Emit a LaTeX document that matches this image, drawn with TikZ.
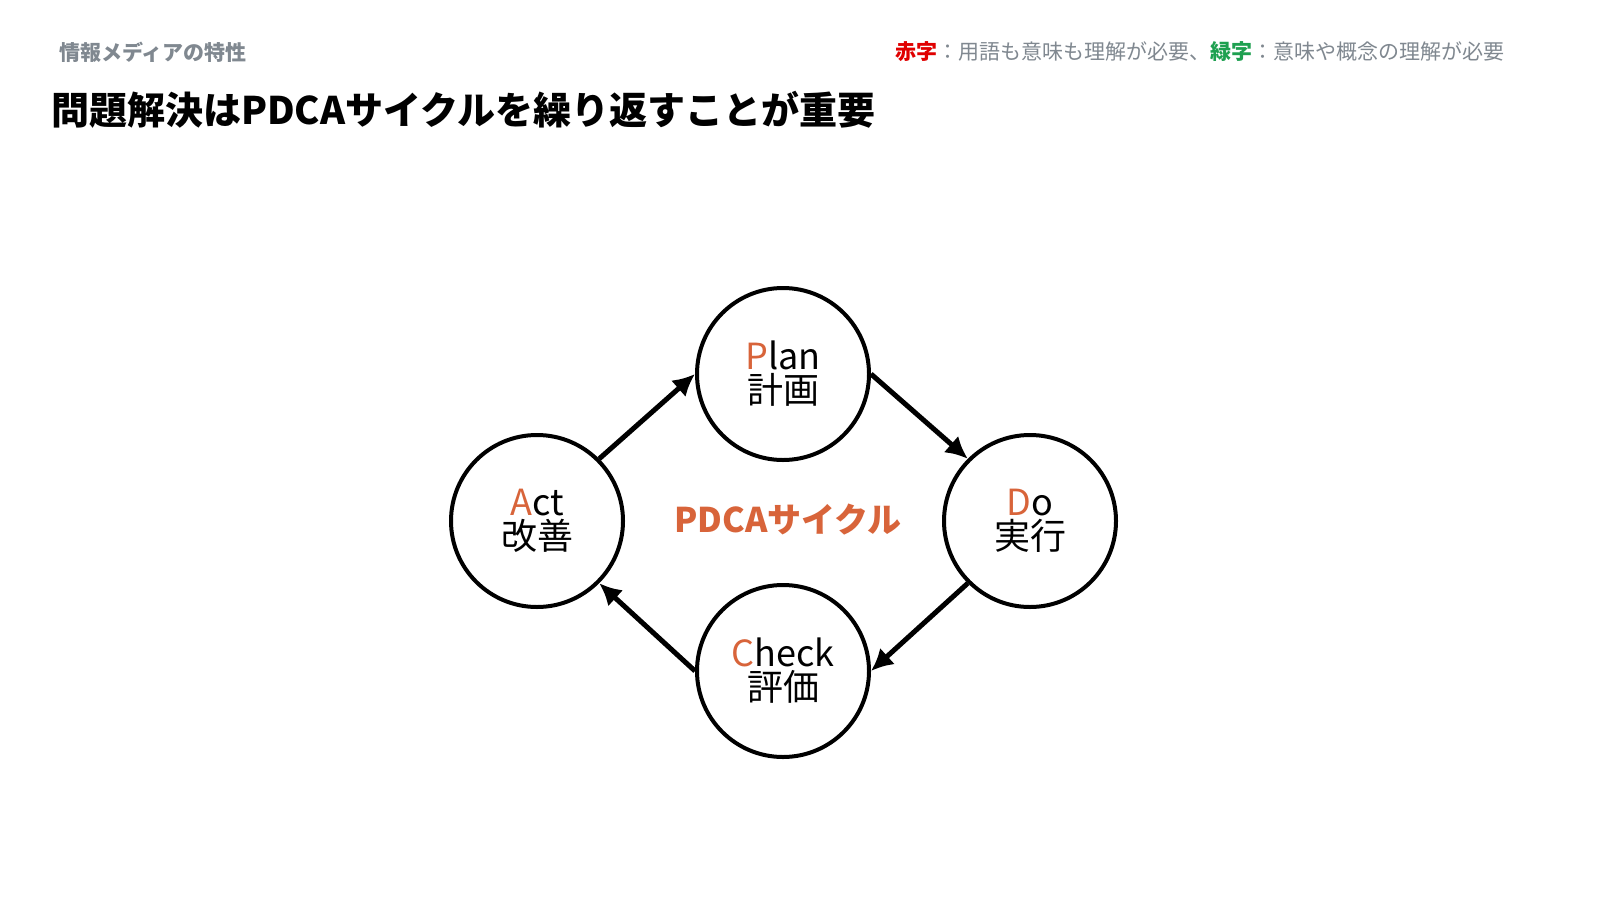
\documentclass[tikz,border=0pt]{standalone}
\usepackage{fontspec}
\setmainfont{Noto Sans CJK JP}
\newfontfamily\jpb{Noto Sans CJK JP Bold}
\usetikzlibrary{arrows.meta}
\definecolor{org}{HTML}{D8643A}
\definecolor{gr}{HTML}{808890}
\definecolor{rd}{HTML}{E00000}
\definecolor{gn}{HTML}{1EA050}
\tikzset{
 cyc/.style={circle,draw=black,line width=2pt,minimum size=86pt,inner sep=0pt,align=center,font=\fontsize{18}{20}\selectfont},
 arr/.style={line width=2.5pt,-{Latex[length=11pt,width=11pt]}}
}
\begin{document}
\begin{tikzpicture}[x=0.5pt,y=-0.5pt]
\useasboundingbox[fill=white] (0,0) rectangle (1600,900);
\node[anchor=west,text=gr,font=\fontsize{10.5}{12}\selectfont\bfseries] (hdr) at (52,52) {情報メディアの特性};
\node[anchor=east,text=gr,font=\fontsize{10.5}{12}\selectfont] (leg) at (1512,52) {{\bfseries\color{rd}赤字}：用語も意味も理解が必要、{\bfseries\color{gn}緑字}：意味や概念の理解が必要};
\node[anchor=west,font=\fontsize{19}{22}\selectfont\bfseries] (ttl) at (44,110) {問題解決はPDCAサイクルを繰り返すことが重要};
\node[cyc] (plan) at (783,374) {{\color{org}P}lan\\[-3pt]計画};
\node[cyc] (do) at (1030,521) {{\color{org}D}o\\[-3pt]実行};
\node[cyc] (check) at (783,671) {{\color{org}C}heck\\[-3pt]評価};
\node[cyc] (act) at (537,521) {{\color{org}A}ct\\[-3pt]改善};
\node[text=org,font=\fontsize{17}{20}\selectfont\bfseries] (ctr) at (788,520) {PDCAサイクル};
\draw[arr] (act.45) -- (plan.180);
\draw[arr] (plan.0) -- (do.135);
\draw[arr] (do.225) -- (check.0);
\draw[arr] (check.180) -- (act.-45);
\end{tikzpicture}
\end{document}
